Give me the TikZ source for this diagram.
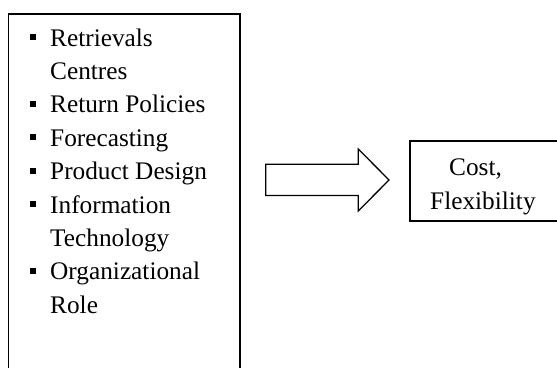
\documentclass[tikz,border=0pt]{standalone}
\usepackage{fontspec}
\setmainfont{Liberation Serif}
\begin{document}
\begin{tikzpicture}[x=1pt,y=-1pt,
  txt/.style={anchor=base west,inner sep=0pt,font=\fontsize{25.3}{30}\selectfont},
  bul/.style={fill=black,draw=none},
  boxline/.style={draw=black,line width=1.6pt},
  arrowline/.style={draw=black,line width=1.3pt,line join=miter}]
\useasboundingbox (0,0) rectangle (557,367);
% left box (open at bottom)
\draw[boxline] (8.5,380) -- (8.5,14) -- (240,14) -- (240,380);
% list
\node[txt] (l1) at (50,46) {Retrievals};
\node[txt] (l2) at (50,79.4) {Centres};
\node[txt] (l3) at (50,112.8) {Return Policies};
\node[txt] (l4) at (50,146.2) {Forecasting};
\node[txt] (l5) at (50,179.6) {Product Design};
\node[txt] (l6) at (50,213) {Information};
\node[txt] (l7) at (50,246.4) {Technology};
\node[txt] (l8) at (50,279.8) {Organizational};
\node[txt] (l9) at (50,313.2) {Role};
\foreach \n in {l1,l3,l4,l5,l6,l8}{
  \fill[bul] ([xshift=-20pt,yshift=6pt]\n.base west) rectangle ++(6,-6);
}
% block arrow
\draw[arrowline] (265.7,164.3) -- (358.3,164.3) -- (358.3,149) -- (389,180)
  -- (358.3,211) -- (358.3,195.5) -- (265.7,195.5) -- cycle;
% right box
\draw[boxline] (410,140.7) rectangle (575,221);
\node[txt] (c1) at (449,175.5) {Cost,};
\node[txt] (c2) at (430,209) {Flexibility};
\end{tikzpicture}
\end{document}
